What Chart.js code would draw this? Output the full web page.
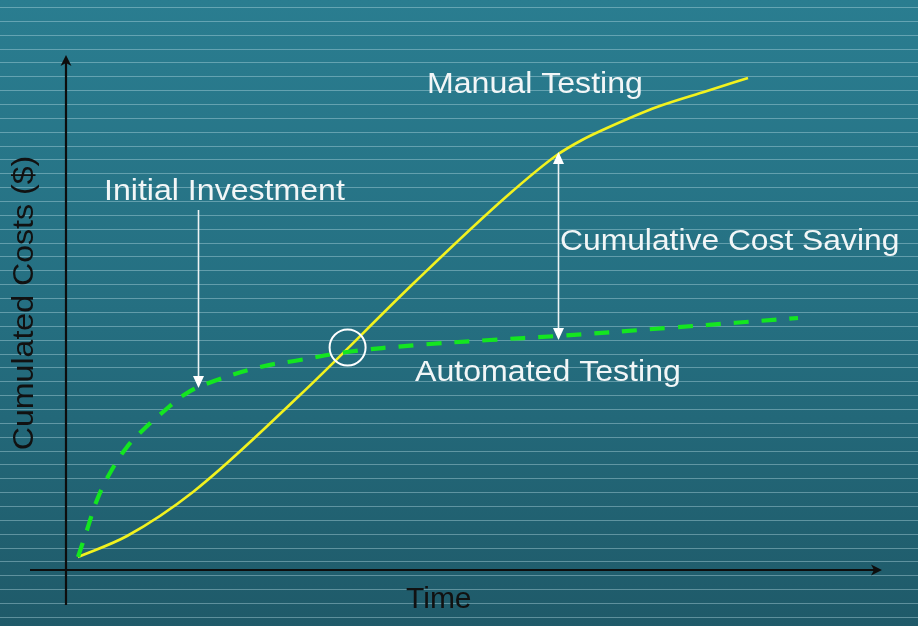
<!DOCTYPE html>
<html>
<head>
<meta charset="utf-8">
<script src="https://cdn.jsdelivr.net/npm/chart.js@4/dist/chart.umd.min.js"></script>
<style>
html,body{margin:0;padding:0;background:#236a7b;}
canvas{display:block;}
</style>
</head>
<body>
<canvas id="c" width="918" height="626"></canvas>
<script>
// ---- Data (time units vs cumulative cost units) ----
const manualTime = [1.5, 7.625, 15.875, 29.25, 43.875, 55.125, 61.375, 64.5, 67.625, 73.875, 80.125, 85.25];
const manualCost = [2.6, 6.8, 15.6, 35.0, 58.0, 74.8, 83.0, 86.0, 88.4, 92.6, 95.8, 98.4];
const autoTime = [1.5, 2.625, 3.875, 5.5, 7.625, 9.625, 12.125, 15.125, 18.875, 24.25, 29.25, 35.125, 43.875, 53.0, 61.375, 75.875, 91.5];
const autoCost = [2.6, 8.0, 14.0, 19.4, 24.6, 28.0, 31.6, 35.4, 38.0, 40.6, 42.0, 43.6, 45.0, 46.0, 46.8, 48.5, 50.4];
const seriesLabels = ["Manual Testing", "Automated Testing"];
const axisLabels = {x: "Time", y: "Cumulated Costs ($)"};
// annotations: break-even point, initial investment arrow, saving arrow
const breakEven = {x: 35.2, y: 44.5};
const investArrow = {x: 16.5, yFrom: 72, yTo: 36.4, text: "Initial Investment"};
const savingArrow = {x: 61.5, yTop: 83.6, yBottom: 46.0, text: "Cumulative Cost Saving"};

const FONT = '30px "Liberation Sans", Arial, sans-serif';
const TXT = '#f2f6f7';
const SX = 1.07;

function tri(ctx, x, y, dir, w, h, color){
  ctx.save(); ctx.fillStyle = color; ctx.beginPath();
  ctx.moveTo(x, y);
  ctx.lineTo(x - w/2, y - dir*h);
  ctx.lineTo(x + w/2, y - dir*h);
  ctx.closePath(); ctx.fill(); ctx.restore();
}
function stretchText(ctx, text, x, y, sx){
  ctx.save(); ctx.translate(x, y); ctx.scale(sx, 1); ctx.fillText(text, 0, 0); ctx.restore();
}

const bgPlugin = {
  id: 'bg',
  beforeDraw(chart){
    const ctx = chart.ctx, W = chart.width, H = chart.height;
    ctx.save();
    const g = ctx.createLinearGradient(0, 0, 0, H);
    g.addColorStop(0, '#2a7d90');
    g.addColorStop(0.5, '#256f81');
    g.addColorStop(1, '#1f5a69');
    ctx.fillStyle = g; ctx.fillRect(0, 0, W, H);
    ctx.strokeStyle = 'rgba(190,225,232,0.40)';
    ctx.lineWidth = 1.2;
    for (let y = 7; y < H; y += 13.86){
      ctx.beginPath(); ctx.moveTo(0, Math.round(y)+0.5); ctx.lineTo(W, Math.round(y)+0.5); ctx.stroke();
    }
    const xs = chart.scales.x, ys = chart.scales.y;
    const x0 = xs.getPixelForValue(0), y0 = ys.getPixelForValue(0);
    ctx.strokeStyle = '#0d0d0d'; ctx.fillStyle = '#0d0d0d'; ctx.lineWidth = 2.2;
    const xr = xs.getPixelForValue(102), xl = xs.getPixelForValue(-4.5);
    const yt = ys.getPixelForValue(103), yb = ys.getPixelForValue(-7);
    ctx.beginPath(); ctx.moveTo(xl, y0); ctx.lineTo(xr - 4, y0); ctx.stroke();
    ctx.beginPath(); ctx.moveTo(x0, yb); ctx.lineTo(x0, yt + 4); ctx.stroke();
    ctx.beginPath(); ctx.moveTo(xr, y0); ctx.lineTo(xr - 11, y0 - 5.5); ctx.lineTo(xr - 8, y0); ctx.lineTo(xr - 11, y0 + 5.5); ctx.closePath(); ctx.fill();
    ctx.beginPath(); ctx.moveTo(x0, yt); ctx.lineTo(x0 - 5.5, yt + 11); ctx.lineTo(x0, yt + 8); ctx.lineTo(x0 + 5.5, yt + 11); ctx.closePath(); ctx.fill();
    ctx.font = FONT; ctx.fillStyle = '#111';
    ctx.textAlign = 'left'; ctx.textBaseline = 'alphabetic';
    ctx.fillText(axisLabels.x, 406, 608);
    ctx.save(); ctx.translate(33, 303); ctx.rotate(-Math.PI/2); ctx.scale(SX, 1);
    ctx.textAlign = 'center'; ctx.fillText(axisLabels.y, 0, 0); ctx.restore();
    ctx.restore();
  },
  afterDatasetsDraw(chart){
    const ctx = chart.ctx, xs = chart.scales.x, ys = chart.scales.y;
    ctx.save();
    ctx.strokeStyle = '#ffffff'; ctx.lineWidth = 2;
    ctx.beginPath(); ctx.arc(xs.getPixelForValue(breakEven.x), ys.getPixelForValue(breakEven.y), 18, 0, Math.PI*2); ctx.stroke();
    ctx.strokeStyle = '#eef3f4'; ctx.lineWidth = 1.6;
    let ax = Math.round(xs.getPixelForValue(investArrow.x)) + 0.5;
    let y1 = ys.getPixelForValue(investArrow.yFrom), y2 = ys.getPixelForValue(investArrow.yTo);
    ctx.beginPath(); ctx.moveTo(ax, y1); ctx.lineTo(ax, y2 - 10); ctx.stroke();
    tri(ctx, ax, y2, 1, 11, 12, '#ffffff');
    ax = Math.round(xs.getPixelForValue(savingArrow.x)) + 0.5;
    y1 = ys.getPixelForValue(savingArrow.yTop); y2 = ys.getPixelForValue(savingArrow.yBottom);
    ctx.beginPath(); ctx.moveTo(ax, y1 + 10); ctx.lineTo(ax, y2 - 10); ctx.stroke();
    tri(ctx, ax, y1, -1, 11, 12, '#ffffff');
    tri(ctx, ax, y2, 1, 11, 12, '#ffffff');
    ctx.font = FONT; ctx.fillStyle = TXT; ctx.textBaseline = 'alphabetic'; ctx.textAlign = 'left';
    stretchText(ctx, seriesLabels[0], 427, 93, SX);
    stretchText(ctx, investArrow.text, 104, 200, SX);
    stretchText(ctx, savingArrow.text, 560, 250, 1.06);
    stretchText(ctx, seriesLabels[1], 415, 381, SX);
    ctx.restore();
  }
};

new Chart(document.getElementById('c'), {
  type: 'line',
  data: {
    datasets: [
      {
        label: seriesLabels[1],
        data: autoTime.map((t, i) => ({x: t, y: autoCost[i]})),
        borderColor: '#14e620', borderWidth: 4.2, borderDash: [15, 13],
        pointRadius: 0, tension: 0.4, fill: false
      },
      {
        label: seriesLabels[0],
        data: manualTime.map((t, i) => ({x: t, y: manualCost[i]})),
        borderColor: '#f2f21e', borderWidth: 2.6,
        pointRadius: 0, cubicInterpolationMode: 'monotone', fill: false
      }
    ]
  },
  options: {
    responsive: false,
    animation: false,
    layout: {padding: 0},
    plugins: {legend: {display: false}, tooltip: {enabled: false}, title: {display: false}},
    scales: {
      x: {type: 'linear', display: false, min: -8.25, max: 106.5},
      y: {type: 'linear', display: false, min: -11.2, max: 114}
    }
  },
  plugins: [bgPlugin]
});
</script>
</body>
</html>
